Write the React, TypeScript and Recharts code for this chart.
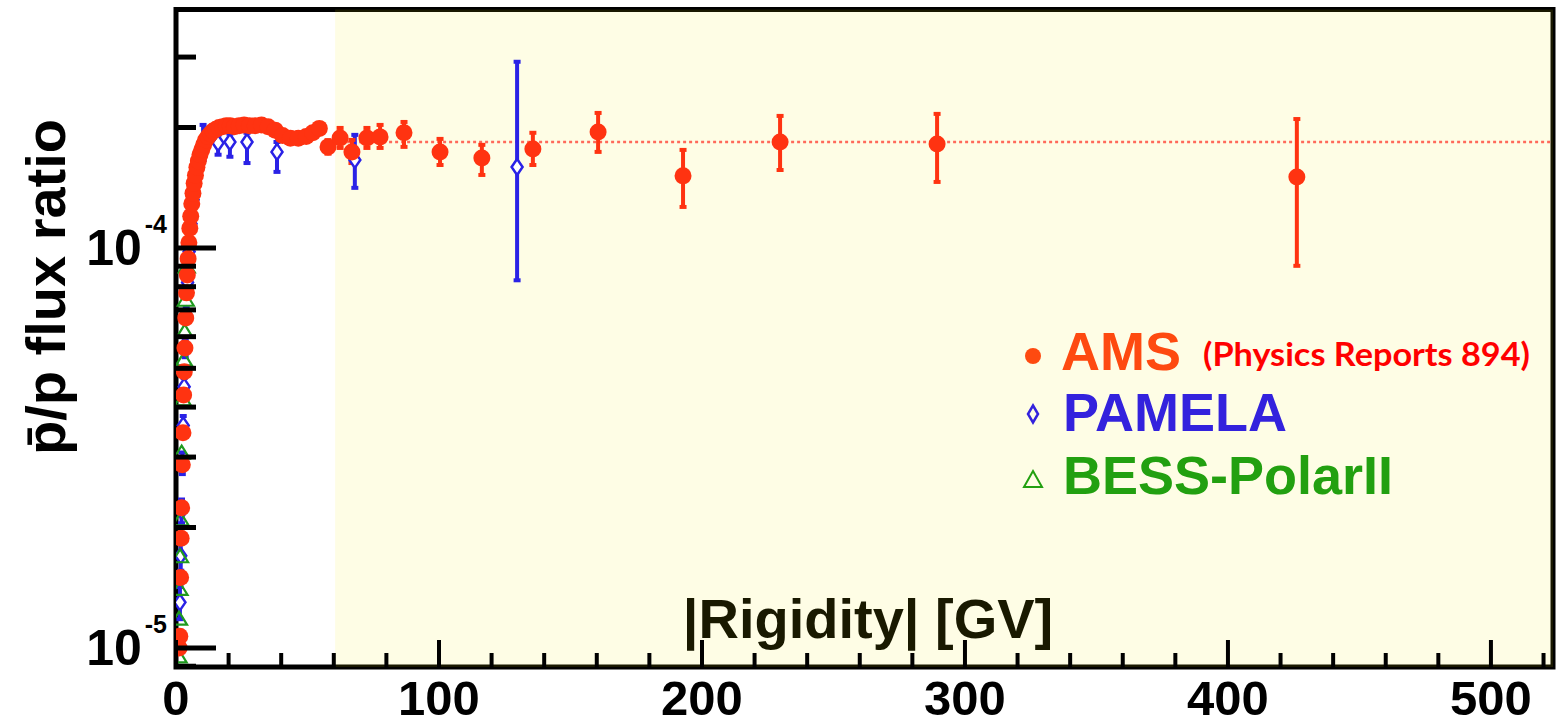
import React from 'react'
import { ScatterChart, Scatter, XAxis, YAxis, ErrorBar, ReferenceArea, ReferenceLine } from 'recharts'

const FONT = '"Liberation Sans", Arial, Helvetica, sans-serif'
const AMS_COLOR = '#ff3311'
const PAMELA_COLOR = '#2a22e6'
const BESS_COLOR = '#1f9a1f'

// AMS, low rigidity (error bars hidden by the markers)
const amsLowR = [
  1.2, 1.45, 1.75, 1.95, 2.15, 2.4, 2.65, 2.9, 3.15, 3.4, 3.7, 4.0, 4.3, 4.6, 4.9, 5.25, 5.6, 6.0, 6.45, 6.9,
  7.4, 7.95, 8.5, 9.1, 9.8, 10.5, 11.3, 12.2, 13.1, 14.1, 15.2, 16.4, 17.7, 19.1, 20.6, 22.2, 24.0, 25.9,
  27.9, 30.1, 32.5, 35.0, 37.7, 40.5, 43.5, 46.5, 49.5, 52.0, 54.5,
]
const amsLowRatio = [
  1.0e-5, 1.07e-5, 1.5e-5, 1.88e-5, 2.24e-5, 2.87e-5, 3.45e-5, 4.29e-5, 4.9e-5, 5.62e-5, 6.68e-5, 7.72e-5,
  8.56e-5, 9.4e-5, 1.03e-4, 1.12e-4, 1.2e-4, 1.29e-4, 1.37e-4, 1.45e-4, 1.52e-4, 1.59e-4, 1.65e-4, 1.71e-4,
  1.76e-4, 1.81e-4, 1.86e-4, 1.9e-4, 1.93e-4, 1.96e-4, 1.98e-4, 2.0e-4, 2.01e-4, 2.02e-4, 2.02e-4, 2.01e-4,
  2.02e-4, 2.03e-4, 2.02e-4, 2.02e-4, 2.03e-4, 2.01e-4, 1.97e-4, 1.91e-4, 1.88e-4, 1.88e-4, 1.9e-4, 1.94e-4,
  1.99e-4,
]

// AMS, high rigidity with error bars
const amsHighR = [57.8, 62.4, 66.9, 72.6, 77.6, 86.7, 100.4, 116.3, 135.7, 160.5, 192.8, 229.7, 289.4, 426.2]
const amsHighRatio = [
  1.789e-4, 1.884e-4, 1.738e-4, 1.884e-4, 1.895e-4, 1.94e-4, 1.738e-4, 1.679e-4, 1.768e-4, 1.95e-4, 1.514e-4,
  1.841e-4, 1.82e-4, 1.505e-4,
]
const amsHighLow = [
  1.72e-4, 1.778e-4, 1.63e-4, 1.778e-4, 1.778e-4, 1.789e-4, 1.612e-4, 1.522e-4, 1.612e-4, 1.738e-4, 1.266e-4,
  1.566e-4, 1.462e-4, 9.02e-5,
]
const amsHighHigh = [
  1.86e-4, 1.995e-4, 1.862e-4, 1.995e-4, 2.03e-4, 2.065e-4, 1.873e-4, 1.81e-4, 1.94e-4, 2.175e-4, 1.758e-4,
  2.138e-4, 2.163e-4, 2.1e-4,
]

// PAMELA
const pamelaR = [1.5, 1.8, 2.1, 2.4, 2.75, 3.1, 3.5, 3.9, 4.4, 5.0, 5.7, 6.5, 7.5, 8.8, 10.3, 16, 20.5, 27, 38.4, 68, 129.7]
const pamelaRatio = [
  1.3e-5, 1.7e-5, 2.2e-5, 2.9e-5, 3.6e-5, 4.5e-5, 5.6e-5, 6.8e-5, 8.2e-5, 9.8e-5, 1.15e-4, 1.32e-4, 1.5e-4,
  1.67e-4, 1.83e-4, 1.83e-4, 1.84e-4, 1.84e-4, 1.738e-4, 1.66e-4, 1.594e-4,
]
const pamelaLow = [
  1.18e-5, 1.56e-5, 2.05e-5, 2.72e-5, 3.4e-5, 4.27e-5, 5.33e-5, 6.5e-5, 7.85e-5, 9.4e-5, 1.1e-4, 1.26e-4,
  1.43e-4, 1.59e-4, 1.66e-4, 1.71e-4, 1.69e-4, 1.63e-4, 1.549e-4, 1.413e-4, 8.3e-5,
]
const pamelaHigh = [
  1.42e-5, 1.84e-5, 2.35e-5, 3.08e-5, 3.8e-5, 4.73e-5, 5.87e-5, 7.1e-5, 8.55e-5, 1.02e-4, 1.2e-4, 1.38e-4,
  1.57e-4, 1.75e-4, 2.03e-4, 1.92e-4, 1.93e-4, 1.94e-4, 1.84e-4, 1.917e-4, 2.92e-4,
]

// BESS-PolarII
const bessR = [1.0, 1.15, 1.35, 1.55, 1.75, 2.15, 2.6, 3.0, 3.3, 3.7, 4.1]
const bessRatio = [9.5e-6, 1.18e-5, 1.4e-5, 1.69e-5, 2.09e-5, 3.07e-5, 4.17e-5, 5.25e-5, 6.17e-5, 7.4e-5, 8.96e-5]

const xTicks = [0, 20, 40, 60, 80, 100, 120, 140, 160, 180, 200, 220, 240, 260, 280, 300, 320, 340, 360, 380, 400, 420, 440, 460, 480, 500, 520]
const xMajor = [0, 100, 200, 300, 400, 500]
const yTicks = [9e-6, 1e-5, 2e-5, 3e-5, 4e-5, 5e-5, 6e-5, 7e-5, 8e-5, 9e-5, 1e-4, 2e-4, 3e-4]
const yMajor = [1e-5, 1e-4]
const yMajorExp = ['-5', '-4']

const X_MAX = 523.6
const Y_MIN = 8.96e-6
const Y_MAX = 3.945e-4
const SHADE_FROM = 60.5
const PLATEAU = 1.84e-4

const amsLow = amsLowR.map((x, i) => ({ x, y: amsLowRatio[i] }))
const amsHigh = amsHighR.map((x, i) => ({
  x,
  y: amsHighRatio[i],
  err: [amsHighRatio[i] - amsHighLow[i], amsHighHigh[i] - amsHighRatio[i]],
}))
const pamela = pamelaR.map((x, i) => ({
  x,
  y: pamelaRatio[i],
  err: [pamelaRatio[i] - pamelaLow[i], pamelaHigh[i] - pamelaRatio[i]],
}))
const bess = bessR.map((x, i) => ({ x, y: bessRatio[i] }))

const AmsDot = (p: any) => <circle cx={p.cx} cy={p.cy} r={8.5} fill={AMS_COLOR} />
const Diamond = (p: any) => (
  <path
    d={`M${p.cx},${p.cy - 8}L${p.cx + 5.5},${p.cy}L${p.cx},${p.cy + 8}L${p.cx - 5.5},${p.cy}Z`}
    fill="#ffffff"
    stroke={PAMELA_COLOR}
    strokeWidth={2.5}
  />
)
const Triangle = (p: any) => (
  <path
    d={`M${p.cx},${p.cy - 7.5}L${p.cx + 8},${p.cy + 5.5}L${p.cx - 8},${p.cy + 5.5}Z`}
    fill="none"
    stroke={BESS_COLOR}
    strokeWidth={2.2}
  />
)

const XTick = (p: any) => {
  const v = p.payload.value
  const major = xMajor.includes(v)
  return (
    <g>
      <line x1={p.x} x2={p.x} y1={p.y} y2={p.y - (major ? 27 : 14)} stroke="#000" strokeWidth={4} />
      {major && (
        <text x={p.x} y={p.y + 48} textAnchor="middle" fontFamily={FONT} fontWeight="bold" fontSize={49} fill="#000">
          {v}
        </text>
      )}
    </g>
  )
}

const YTick = (p: any) => {
  const v = p.payload.value
  const idx = yMajor.findIndex((m) => Math.abs(m - v) / m < 1e-6)
  const major = idx >= 0
  return (
    <g>
      <line x1={p.x} x2={p.x + (major ? 40 : 20)} y1={p.y} y2={p.y} stroke="#000" strokeWidth={5} />
      {major && (
        <text x={p.x - 9} y={p.y + 17} textAnchor="end" fontFamily={FONT} fontWeight="bold" fontSize={50} fill="#000">
          10
          <tspan dx={3} dy={-32} fontSize={25}>
            {yMajorExp[idx]}
          </tspan>
        </text>
      )}
    </g>
  )
}

const App = () => {
  return (
    <div style={{ position: 'absolute', left: 0, top: 0, width: 1558, height: 726, background: '#fff' }}>
      <ScatterChart width={1558} height={726} margin={{ top: 9.5, right: 5, left: 0, bottom: 0 }}>
        <XAxis
          dataKey="x"
          type="number"
          domain={[0, X_MAX]}
          allowDataOverflow
          ticks={xTicks}
          interval={0}
          height={59}
          axisLine={false}
          tickLine={false}
          tickSize={0}
          tickMargin={0}
          tick={<XTick />}
        />
        <YAxis
          dataKey="y"
          type="number"
          scale="log"
          domain={[Y_MIN, Y_MAX]}
          allowDataOverflow
          ticks={yTicks}
          interval={0}
          width={176}
          axisLine={false}
          tickLine={false}
          tickSize={0}
          tickMargin={0}
          tick={<YTick />}
        />
        <ReferenceLine
          segment={[
            { x: SHADE_FROM, y: PLATEAU },
            { x: X_MAX, y: PLATEAU },
          ]}
          stroke="#ff6a5a"
          strokeWidth={2.5}
          strokeDasharray="3 3"
          ifOverflow="visible"
        />
        <Scatter data={pamela} shape={<Diamond />} isAnimationActive={false}>
          <ErrorBar dataKey="err" direction="y" width={3.5} strokeWidth={4} stroke={PAMELA_COLOR} />
        </Scatter>
        <Scatter data={bess} shape={<Triangle />} isAnimationActive={false} />
        <Scatter data={amsHigh} shape={<AmsDot />} isAnimationActive={false}>
          <ErrorBar dataKey="err" direction="y" width={3.5} strokeWidth={4} stroke={AMS_COLOR} />
        </Scatter>
        <Scatter data={amsLow} shape={<AmsDot />} isAnimationActive={false} />
        <ReferenceArea
          x1={0}
          x2={X_MAX}
          y1={Y_MIN}
          y2={Y_MAX}
          fill="none"
          stroke="#000"
          strokeWidth={5}
          ifOverflow="visible"
        />
        <ReferenceArea
          x1={SHADE_FROM}
          x2={X_MAX}
          y1={Y_MIN}
          y2={Y_MAX}
          fill="#f5eb00"
          fillOpacity={0.1}
          stroke="none"
          ifOverflow="visible"
        />
      </ScatterChart>
      <svg
        width={1558}
        height={726}
        style={{ position: 'absolute', left: 0, top: 0, pointerEvents: 'none' }}
      >
        <text
          transform="translate(65,287) rotate(-90)"
          textAnchor="middle"
          fontFamily={FONT}
          fontWeight="bold"
          fontSize={56}
          fill="#000"
        >
          {'p\u0304/p flux ratio'}
        </text>
        <text x={868} y={638} textAnchor="middle" fontFamily={FONT} fontWeight="bold" fontSize={56} fill="#191900">
          |Rigidity| [GV]
        </text>
        <circle cx={1033} cy={356} r={8} fill="#fe4a10" />
        <text x={1061} y={370} fontFamily={FONT} fontWeight="bold" fontSize={54} fill="#fe4a10">
          AMS
        </text>
        <text
          x={1203}
          y={366}
          fontFamily="Lato, 'Open Sans', sans-serif"
          fontWeight="bold"
          fontSize={33}
          textLength={327}
          lengthAdjust="spacingAndGlyphs"
          fill="#ff0000"
        >
          (Physics Reports 894)
        </text>
        <path d="M1033,405.5L1038,414L1033,422.5L1028,414Z" fill="none" stroke="#3322dd" strokeWidth={2.5} />
        <text x={1063} y={431} fontFamily={FONT} fontWeight="bold" fontSize={54} fill="#3322dd">
          PAMELA
        </text>
        <path d="M1033,471L1042,487L1024,487Z" fill="none" stroke="#22a010" strokeWidth={2} />
        <text x={1063} y={494} fontFamily={FONT} fontWeight="bold" fontSize={54} fill="#22a010">
          BESS-PolarII
        </text>
      </svg>
    </div>
  )
}

export default App
